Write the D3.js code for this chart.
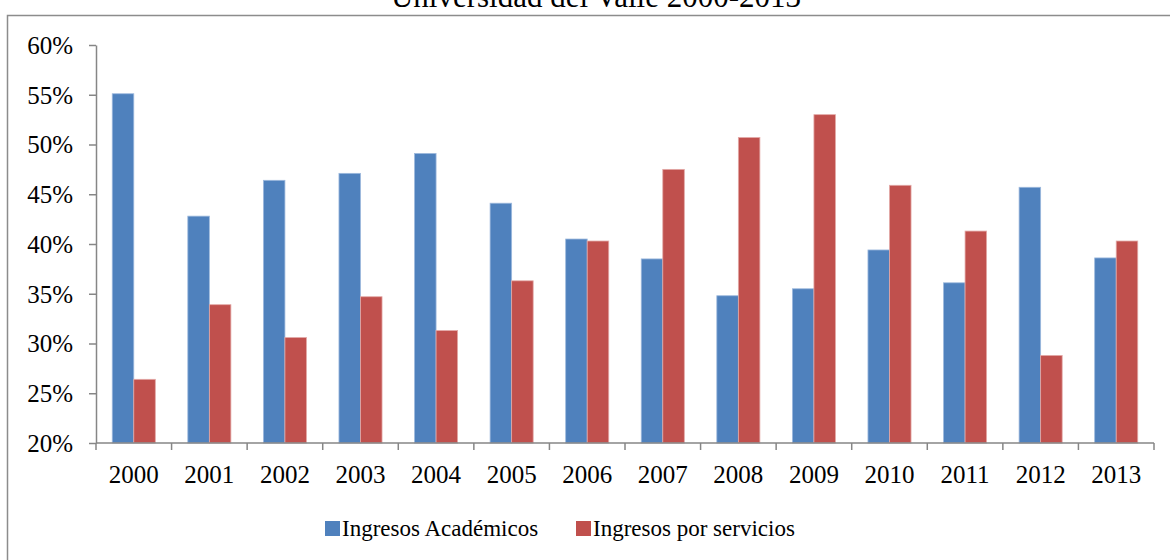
<!DOCTYPE html>
<html>
<head>
<meta charset="utf-8">
<script src="https://cdn.jsdelivr.net/npm/d3@7"></script>
<style>
  html, body { margin: 0; padding: 0; background: #fff; }
  svg { display: block; }
  svg text { font-family: "Liberation Serif", "DejaVu Serif", serif !important; fill: #000; }
</style>
</head>
<body>
<svg id="chart" width="1170" height="560"></svg>
<script>
const title = "Universidad del Valle 2000-2013";
const years = ["2000","2001","2002","2003","2004","2005","2006","2007","2008","2009","2010","2011","2012","2013"];
const seriesNames = ["Ingresos Académicos", "Ingresos por servicios"];
const academicos = [55.1, 42.8, 46.4, 47.1, 49.1, 44.1, 40.5, 38.5, 34.8, 35.5, 39.4, 36.1, 45.7, 38.6];
const servicios  = [26.4, 33.9, 30.6, 34.7, 31.3, 36.3, 40.3, 47.5, 50.7, 53.0, 45.9, 41.3, 28.8, 40.3];
const yTicks = [20, 25, 30, 35, 40, 45, 50, 55, 60];

const colors = ["#4F81BD", "#C0504D"];
const strokes = ["#9DB9DD", "#E3A9A7"];

const svg = d3.select("#chart");

// outer chart border
svg.append("rect")
  .attr("x", 7.5).attr("y", 15.5)
  .attr("width", 1200).attr("height", 600)
  .attr("fill", "none").attr("stroke", "#8c8c8c").attr("stroke-width", 1.5);

// title (partially cut by top edge, as in the reference)
svg.append("text")
  .attr("x", 596).attr("y", 7)
  .attr("text-anchor", "middle")
  .style("font-size", "31px")
  .text(title);

const plotL = 96, plotR = 1154, plotT = 45, plotB = 443;

const x = d3.scaleBand().domain(years).range([plotL, plotR]).paddingInner(0.43).paddingOuter(0.215);
const xs = d3.scaleBand().domain([0, 1]).range([0, x.bandwidth()]);
const y = d3.scaleLinear().domain([20, 60]).range([plotB, plotT]);

// bars
const data = [academicos, servicios];
data.forEach((vals, si) => {
  svg.append("g").selectAll("rect")
    .data(vals)
    .join("rect")
    .attr("x", (d, i) => x(years[i]) + xs(si))
    .attr("y", d => y(d))
    .attr("width", xs.bandwidth())
    .attr("height", d => y(20) - y(d))
    .attr("fill", colors[si])
    .attr("stroke", strokes[si])
    .attr("stroke-width", 0.8);
});

// y axis
const yAxis = svg.append("g")
  .attr("transform", `translate(${plotL},0)`)
  .call(d3.axisLeft(y).tickValues(yTicks).tickFormat(d => d + "%").tickSize(7).tickSizeOuter(0).tickPadding(16));
yAxis.select(".domain").attr("stroke", "#868686").attr("stroke-width", 1.5);
yAxis.selectAll(".tick line").attr("stroke", "#868686").attr("stroke-width", 1.5);
yAxis.selectAll(".tick text").style("font-size", "25px").attr("dy", "0.33em");

// x axis: baseline line with ticks at category boundaries
const xAxis = svg.append("g")
  .attr("transform", `translate(0,${plotB})`)
  .call(d3.axisBottom(x).tickSize(0).tickPadding(22));
xAxis.select(".domain").attr("stroke", "#868686").attr("stroke-width", 1.5).attr("d", `M${plotL},0H${plotR}`);
xAxis.selectAll(".tick text").style("font-size", "25px");
const boundaries = years.map(yr => x(yr) - x.step() * x.paddingInner() / 2).concat([plotR]);
xAxis.selectAll("line.bnd")
  .data(boundaries)
  .join("line")
  .attr("class", "bnd")
  .attr("x1", d => d).attr("x2", d => d)
  .attr("y1", 0).attr("y2", 7)
  .attr("stroke", "#868686").attr("stroke-width", 1.5);

// legend
const legendItems = [
  { name: seriesNames[0], color: colors[0], sx: 325, tx: 342 },
  { name: seriesNames[1], color: colors[1], sx: 576, tx: 593 }
];
const lg = svg.append("g");
legendItems.forEach(it => {
  lg.append("rect").attr("x", it.sx).attr("y", 521).attr("width", 15).attr("height", 15).attr("fill", it.color);
  lg.append("text").attr("x", it.tx).attr("y", 536).style("font-size", "23px").text(it.name);
});
</script>
</body>
</html>
